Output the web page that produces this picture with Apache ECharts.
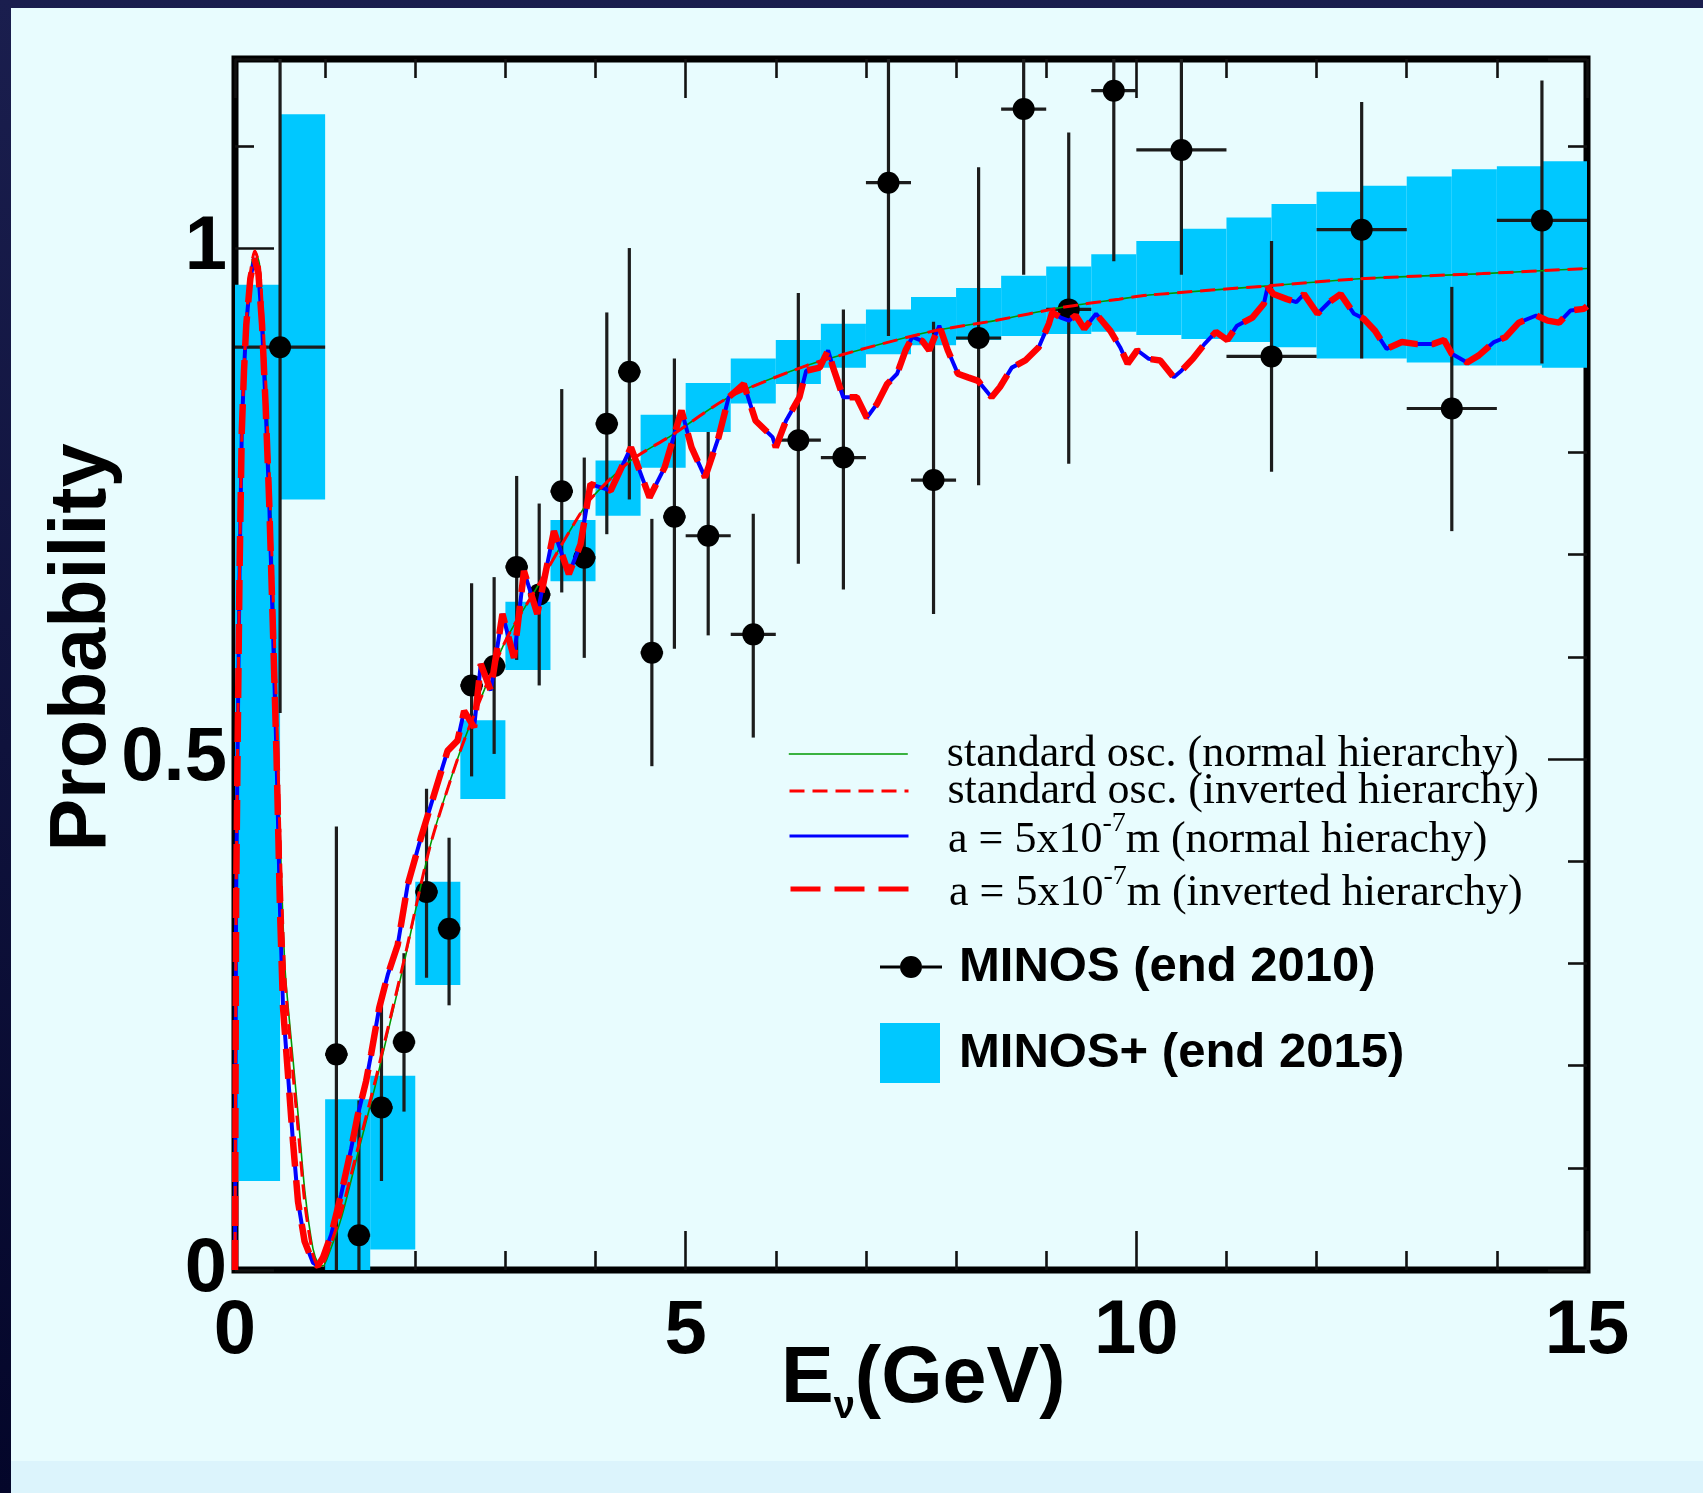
<!DOCTYPE html>
<html>
<head>
<meta charset="utf-8">
<script src="https://cdn.jsdelivr.net/npm/echarts@6/dist/echarts.min.js"></script>
<style>
html,body{margin:0;padding:0;background:#12163f;}
#chart{width:1703px;height:1493px;}
</style>
</head>
<body>
<div id="chart"></div>
<script>
// ---------------- data ----------------
// standard oscillation curves
const stdE = [0,0.005,0.012,0.03,0.05,0.08,0.127,0.17,0.22,0.27,
  0.31,0.35,0.39,0.43,0.47,0.51,0.555,0.625,0.70,0.775,
  0.865,0.93,0.975,1.05,1.18,1.36,1.55,1.70,1.88,2.17,
  2.50,2.73,3.02,3.35,3.76,3.94,4.39,4.84,5.48,6.34,
  7.01,7.76,8.43,9.18,9.81,10.14,11.46,12.48,13.84,15.0];
const stdNormalP = [0,0.15,0.36,0.52,0.68,0.83,0.93,0.975,0.997,0.985,
  0.935,0.86,0.765,0.65,0.53,0.40,0.295,0.224,0.152,0.077,
  0.021,0.005,0.004,0.018,0.051,0.113,0.178,0.234,0.302,0.4165,
  0.508,0.56,0.619,0.668,0.73,0.754,0.792,0.8165,0.854,0.885,
  0.9023,0.919,0.929,0.942,0.95,0.954,0.963,0.970,0.975,0.980];
const stdInvertedP = [0,0.15,0.36,0.52,0.68,0.83,0.93,0.975,0.997,0.983,
  0.93,0.85,0.755,0.64,0.52,0.39,0.285,0.21,0.138,0.065,
  0.015,0.003,0.006,0.022,0.057,0.118,0.183,0.238,0.305,0.4165,
  0.508,0.56,0.619,0.668,0.73,0.754,0.792,0.8165,0.854,0.885,
  0.9023,0.919,0.929,0.942,0.95,0.954,0.963,0.970,0.975,0.980];

// a = 5x10^-7 m curves (normal and inverted hierarchy overlap)
const aE = [0,0.005,0.012,0.03,0.05,0.075,0.1,0.125,0.17,0.215,
  0.26,0.30,0.34,0.38,0.42,0.46,0.50,0.533,0.588,0.643,
  0.699,0.772,0.865,0.92,0.975,1.067,1.178,1.289,1.363,1.455,
  1.51,1.60,1.695,1.805,1.916,2.063,2.21,2.358,2.469,2.542,
  2.653,2.727,2.837,2.967,3.095,3.206,3.354,3.538,3.704,3.833,
  3.944,4.168,4.393,4.599,4.767,4.954,5.065,5.215,5.365,5.477,
  5.645,5.776,5.964,6.0,6.113,6.262,6.337,6.487,6.58,6.636,
  6.748,6.898,7.01,7.123,7.235,7.346,7.44,7.515,7.627,7.702,
  7.814,7.908,8.02,8.132,8.245,8.394,8.487,8.618,8.768,8.917,
  9.03,9.067,9.16,9.253,9.328,9.422,9.553,9.712,9.82,9.904,
  10.01,10.138,10.265,10.415,10.5,10.627,10.755,10.883,11.01,11.117,
  11.287,11.415,11.457,11.52,11.67,11.775,11.86,12.01,12.138,12.266,
  12.415,12.52,12.648,12.776,12.946,13.116,13.287,13.414,13.5,13.67,
  13.8,13.968,14.095,14.244,14.436,14.563,14.69,14.818,14.966,15.0];
const aP = [0,0.15,0.36,0.52,0.68,0.82,0.88,0.925,0.97,0.99,
  0.975,0.925,0.845,0.75,0.63,0.505,0.35,0.2565,0.191,0.126,
  0.067,0.028,0.007,0.004,0.012,0.0345,0.074,0.119,0.152,0.185,
  0.211,0.2565,0.289,0.318,0.377,0.423,0.4655,0.508,0.518,0.547,
  0.531,0.593,0.567,0.642,0.599,0.684,0.642,0.723,0.681,0.71,
  0.769,0.7626,0.805,0.756,0.7854,0.841,0.805,0.7756,0.8148,0.854,
  0.867,0.831,0.815,0.805,0.831,0.854,0.88,0.883,0.9,0.883,
  0.854,0.854,0.834,0.8475,0.867,0.877,0.9,0.913,0.909,0.9,
  0.924,0.9,0.877,0.8735,0.87,0.854,0.864,0.883,0.89,0.903,
  0.926,0.937,0.932,0.929,0.934,0.921,0.9357,0.919,0.903,0.887,
  0.9,0.8916,0.89,0.8735,0.88,0.8916,0.906,0.918,0.91,0.924,
  0.932,0.9455,0.962,0.955,0.95,0.947,0.955,0.9357,0.947,0.955,
  0.9357,0.931,0.919,0.9014,0.908,0.906,0.906,0.91,0.8965,0.888,
  0.895,0.908,0.9127,0.927,0.934,0.929,0.927,0.939,0.9405,0.943];

// MINOS (end 2010) points
const minosE = [0.5,1.125,1.375,1.625,1.875,2.125,2.375,2.625,2.875,3.125,
  3.375,3.625,3.875,4.125,4.375,4.625,4.875,5.25,5.75,6.25,
  6.75,7.25,7.75,8.25,8.75,9.25,9.75,10.5,11.5,12.5,13.5,14.5];
const minosBinLo = [0,1.0,1.25,1.5,1.75,2.0,2.25,2.5,2.75,3.0,
  3.25,3.5,3.75,4.0,4.25,4.5,4.75,5.0,5.5,6.0,
  6.5,7.0,7.5,8.0,8.5,9.0,9.5,10,11,12,13,14];
const minosBinHi = [1.0,1.25,1.5,1.75,2.0,2.25,2.5,2.75,3.0,3.25,
  3.5,3.75,4.0,4.25,4.5,4.75,5.0,5.5,6.0,6.5,
  7.0,7.5,8.0,8.5,9.0,9.5,10,11,12,13,14,15];
const minosP = [0.903,0.211,0.034,0.159,0.223,0.37,0.334,0.572,0.591,0.688,
  0.661,0.762,0.697,0.828,0.879,0.604,0.737,0.7185,0.622,0.812,
  0.795,1.064,0.773,0.912,1.136,0.940,1.154,1.096,0.894,1.018,0.843,1.027];
const minosLo = [0.545,0,0,0.087,0.155,0.286,0.259,0.483,0.505,0.597,
  0.572,0.663,0.599,0.72,0.754,0.493,0.608,0.621,0.521,0.691,
  0.666,0.914,0.642,0.768,0.974,0.789,0.987,0.974,0.781,0.892,0.723,0.887];
const minosHi = [1.3,0.434,0.166,0.268,0.31,0.471,0.423,0.672,0.678,0.777,
  0.750,0.862,0.795,0.937,1.0,0.735,0.892,0.820,0.740,0.956,
  0.940,1.3,0.928,1.079,1.3,1.113,1.3,1.3,1.007,1.143,0.962,1.164];

// MINOS+ (end 2015) bands
const plusBinLo = [0,0.5,1.0,1.5,2.0,2.5,3.0,3.5,4.0,4.5,5.0,5.5,6.0,6.5,7.0,
  7.5,8.0,8.5,9.0,9.5,10.0,10.5,11.0,11.5,12.0,12.5,13.0,13.5,14.0,14.5];
const plusBinHi = [0.5,1.0,1.5,2.0,2.5,3.0,3.5,4.0,4.5,5.0,5.5,6.0,6.5,7.0,7.5,
  8.0,8.5,9.0,9.5,10.0,10.5,11.0,11.5,12.0,12.5,13.0,13.5,14.0,14.5,15.0];
const plusLo = [0.087,0.754,0,0.02,0.279,0.461,0.587,0.674,0.738,0.785,
  0.820,0.848,0.867,0.883,0.896,0.905,0.910,0.914,0.916,0.918,
  0.915,0.911,0.908,0.903,0.892,0.892,0.888,0.885,0.885,0.883];
const plusHi = [0.964,1.131,0.167,0.19,0.38,0.538,0.654,0.734,0.792,0.837,
  0.868,0.892,0.910,0.926,0.940,0.952,0.961,0.973,0.982,0.994,
  1.007,1.019,1.030,1.043,1.055,1.061,1.070,1.077,1.080,1.085];

// axis ranges / ticks
const xMin = 0, xMax = 15, xMajor = 5;
const yMin = 0, yMax = 1.185, yMajor = 0.5;
const yTickLabels = {'0':'0','0.5':'0.5','1':'1'};

// names
const N_STD_N = 'standard osc. (normal hierarchy)';
const N_STD_I = 'standard osc. (inverted hierarchy)';
const N_A_N = 'a = 5x10^-7m (normal hierachy)';
const N_A_I = 'a = 5x10^-7m (inverted hierarchy)';
const N_MINOS = 'MINOS (end 2010)';
const N_PLUS = 'MINOS+ (end 2015)';

// ---------------- build ----------------
const zip = (xs, ys) => xs.map((x, i) => [x, ys[i]]);
const minosData = minosE.map((e, i) => [e, minosP[i], minosLo[i], minosHi[i], minosBinLo[i], minosBinHi[i]]);
const plusData = plusBinLo.map((x, i) => [x, plusBinHi[i], plusLo[i], plusHi[i]]);

const SERIF = '"Liberation Serif","Times New Roman",Times,serif';
const SANS = '"Liberation Sans",Arial,Helvetica,sans-serif';
const CYAN = '#00c8ff';

function renderBox(params, api) {
  const p1 = api.coord([api.value(0), api.value(3)]);
  const p2 = api.coord([api.value(1), api.value(2)]);
  return {type:'rect', shape:{x:p1[0], y:p1[1], width:p2[0]-p1[0], height:p2[1]-p1[1]},
    style:{fill:CYAN}};
}
function renderMinos(params, api) {
  const e = api.value(0), p = api.value(1), lo = api.value(2), hi = api.value(3),
        xl = api.value(4), xh = api.value(5);
  const c = api.coord([e, p]), t = api.coord([e, hi]), b = api.coord([e, lo]);
  const l = api.coord([xl, p]), r = api.coord([xh, p]);
  const ls = {stroke:'#1c1c1c', lineWidth:3.2};
  return {type:'group', children:[
    {type:'line', shape:{x1:t[0], y1:t[1], x2:b[0], y2:b[1]}, style:ls},
    {type:'line', shape:{x1:l[0], y1:c[1], x2:r[0], y2:c[1]}, style:ls},
    {type:'circle', shape:{cx:c[0], cy:c[1], r:11}, style:{fill:'#000'}}
  ]};
}

const legendFormatter = n => n.indexOf('^-7') >= 0
  ? '{h| }{t|' + n.split('^-7')[0] + '}{sup|-7}{t|' + n.split('^-7')[1] + '}'
  : '{t|' + n + '}';
const lineRich = {
  t:{fontSize:44, fontFamily:SERIF, lineHeight:44, verticalAlign:'bottom', color:'#000'},
  sup:{fontSize:28, fontFamily:SERIF, lineHeight:28, verticalAlign:'top', color:'#000'},
  h:{fontSize:2, lineHeight:52, verticalAlign:'top', color:'rgba(0,0,0,0)'}
};
function lineLegend(name, top, lw, type) {
  return {
    data:[name], left:788, top:top, padding:0, orient:'vertical',
    itemWidth:119, itemHeight:14, selectedMode:false,
    itemStyle:{color:'rgba(0,0,0,0)', borderWidth:0, borderColor:'rgba(0,0,0,0)', opacity:0},
    lineStyle:{width:lw, type:type, color:'inherit', opacity:1},
    formatter:legendFormatter,
    textStyle:{padding:[0,0,0,34], rich:lineRich, color:'#000'}
  };
}

const axisTickStyle = {color:'#111', width:2.6};
function xAx(pos, showLabel) {
  return {
    type:'value', position:pos, min:xMin, max:xMax, interval:xMajor,
    axisLine:{show:false, onZero:false},
    axisTick:{show:true, inside:true, length:39, lineStyle:axisTickStyle},
    minorTick:{show:true, splitNumber:5, length:19, lineStyle:axisTickStyle},
    splitLine:{show:false}, minorSplitLine:{show:false},
    axisLabel:{show:showLabel, margin:24, fontSize:76, fontWeight:'bold', fontFamily:SANS, color:'#000'}
  };
}
function yAx(pos, showLabel) {
  return {
    type:'value', position:pos, min:yMin, max:yMax, interval:yMajor,
    axisLine:{show:false, onZero:false},
    axisTick:{show:true, inside:true, length:39, lineStyle:axisTickStyle},
    minorTick:{show:true, splitNumber:5, length:19, lineStyle:axisTickStyle},
    splitLine:{show:false}, minorSplitLine:{show:false},
    axisLabel:{show:showLabel, margin:8, fontSize:76, fontWeight:'bold', fontFamily:SANS, color:'#000',
      formatter: v => { const k = String(Math.round(v*1000)/1000); return yTickLabels[k] !== undefined ? yTickLabels[k] : ''; }}
  };
}

const xBottom = xAx('bottom', true);
xBottom.name = '{h| }{e|E}{sub|ν}{e|(GeV)}';
xBottom.nameLocation = 'middle';
xBottom.nameGap = 71;
xBottom.nameMoveOverlap = false;
xBottom.nameTextStyle = {padding:[0,0,0,24], rich:{
  h:{fontSize:2, lineHeight:86, verticalAlign:'top', color:'rgba(0,0,0,0)'},
  e:{fontSize:79, fontWeight:'bold', fontFamily:SANS, color:'#000', lineHeight:79, verticalAlign:'top'},
  sub:{fontSize:38, fontWeight:'bold', fontFamily:SANS, color:'#000', lineHeight:38, verticalAlign:'bottom'}
}};

const yLeft = yAx('left', true);
yLeft.name = 'Probability';
yLeft.nameLocation = 'middle';
yLeft.nameRotate = 90;
yLeft.nameGap = 112;
yLeft.nameMoveOverlap = false;
yLeft.nameTextStyle = {fontSize:79, fontWeight:'bold', fontFamily:SANS, color:'#000', padding:[0,0,0,34]};

const option = {
  animation:false,
  backgroundColor:{type:'linear', x:0, y:0, x2:0, y2:1,
    colorStops:[{offset:0, color:'#1a1e4e'}, {offset:1, color:'#04062a'}]},
  graphic:[
    {type:'rect', z:-10, silent:true, shape:{x:11, y:8, width:1692, height:1453}, style:{fill:'#e8fcfe'}},
    {type:'rect', z:-10, silent:true, shape:{x:11, y:1461, width:1692, height:32}, style:{fill:'#dcf4fc'}}
  ],
  grid:{left:235, right:116, top:59, bottom:223, show:true, borderColor:'#000', borderWidth:7,
    backgroundColor:'transparent', containLabel:false, outerBoundsMode:'none'},
  xAxis:[xBottom, xAx('top', false)],
  yAxis:[yLeft, yAx('right', false)],
  legend:[
    lineLegend(N_STD_N, 732, 1.6, 'solid'),
    lineLegend(N_STD_I, 769, 3, [15, 8]),
    lineLegend(N_A_N, 810, 3, 'solid'),
    lineLegend(N_A_I, 863, 5, [30, 14]),
    {data:[{name:N_MINOS,
        icon:'path://M0,9.5L20,9.5L20,12.5L0,12.5Z M42,9.5L62,9.5L62,12.5L42,12.5Z M20,11A11,11,0,1,0,42,11A11,11,0,1,0,20,11Z',
        itemStyle:{color:'#000', borderWidth:0}}],
      left:880, top:942, padding:0, itemWidth:62, itemHeight:22, selectedMode:false,
      textStyle:{fontFamily:SANS, fontWeight:'bold', fontSize:49, lineHeight:50, color:'#000', padding:[0,0,0,12]}},
    {data:[{name:N_PLUS, icon:'rect', itemStyle:{color:CYAN, borderWidth:0}}],
      left:880, top:1023, padding:0, itemWidth:60, itemHeight:60, selectedMode:false,
      textStyle:{fontFamily:SANS, fontWeight:'bold', fontSize:49, lineHeight:50, color:'#000', padding:[0,0,0,14]}}
  ],
  series:[
    {name:N_PLUS, type:'custom', renderItem:renderBox, data:plusData, clip:true, z:1,
      itemStyle:{color:CYAN}, encode:{x:[0,1], y:[2,3]}},
    {name:N_MINOS, type:'custom', renderItem:renderMinos, data:minosData, clip:true, z:3,
      itemStyle:{color:'#000'}, encode:{x:[0,4,5], y:[1,2,3]}},
    {name:N_STD_N, type:'line', data:zip(stdE, stdNormalP), symbol:'none', smooth:0.25, z:4,
      lineStyle:{color:'#009a00', width:1.6}, itemStyle:{color:'#009a00'}},
    {name:N_A_N, type:'line', data:zip(aE, aP), symbol:'none', z:5,
      lineStyle:{color:'#0000ff', width:4}, itemStyle:{color:'#0000ff'}},
    {name:N_A_I, type:'line', data:zip(aE, aP), symbol:'none', z:6,
      lineStyle:{color:'#ff0000', width:6.5, type:[30, 14], cap:'butt'}, itemStyle:{color:'#ff0000'}},
    {name:N_STD_I, type:'line', data:zip(stdE, stdInvertedP), symbol:'none', smooth:0.25, z:7,
      lineStyle:{color:'#ff0000', width:3, type:[15, 8]}, itemStyle:{color:'#ff0000'}}
  ]
};

const chart = echarts.init(document.getElementById('chart'), null, {renderer:'canvas'});
chart.setOption(option);
</script>
</body>
</html>
